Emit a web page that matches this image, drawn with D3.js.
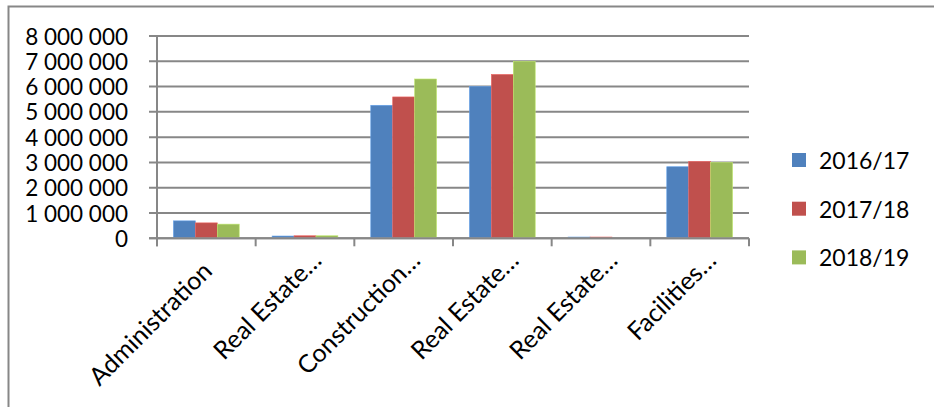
<!DOCTYPE html>
<html>
<head>
<meta charset="utf-8">
<script src="https://cdn.jsdelivr.net/npm/d3@7"></script>
<style>
  html, body { margin: 0; padding: 0; background: #fff; }
  svg { display: block; }
  text { font-family: Lato, "Open Sans", "Liberation Sans", sans-serif; fill: #000; }
</style>
</head>
<body>
<svg id="chart" width="934" height="407"></svg>
<script>
// ---- data ----
const categories = ["Administration", "Real Estate…", "Construction…", "Real Estate…", "Real Estate…", "Facilities…"];
const seriesNames = ["2016/17", "2017/18", "2018/19"];
const values2016 = [690000, 90000, 5260000, 6000000, 50000, 2830000];
const values2017 = [610000, 100000, 5590000, 6480000, 50000, 3040000];
const values2018 = [560000, 100000, 6300000, 7000000, 0, 3000000];
const yTickValues = [0, 1000000, 2000000, 3000000, 4000000, 5000000, 6000000, 7000000, 8000000];
const seriesColors = ["#4F81BD", "#C0504D", "#9BBB59"];

const seriesValues = [values2016, values2017, values2018];

// ---- layout ----
const svg = d3.select("#chart");
const plot = { left: 157, right: 749, top: 36, bottom: 238.3 };
const gridColor = "#878787";

const locale = d3.formatLocale({ decimal: ",", thousands: " ", grouping: [3], currency: ["", ""] });
const fmt = locale.format(",d");

const x = d3.scaleBand().domain(d3.range(categories.length)).range([plot.left, plot.right]).paddingInner(0).paddingOuter(0);
const y = d3.scaleLinear().domain([0, 8000000]).range([plot.bottom, plot.top]);

// outer frame (top and left edges visible)
svg.append("path")
  .attr("d", `M8.5,${407 + 2} L8.5,6.5 L${934 + 2},6.5`)
  .attr("fill", "none").attr("stroke", gridColor).attr("stroke-width", 2);

// gridlines (including tick stubs to the left of the axis)
svg.append("g").selectAll("line").data(yTickValues).join("line")
  .attr("x1", plot.left - 8).attr("x2", plot.right)
  .attr("y1", d => y(d)).attr("y2", d => y(d))
  .attr("stroke", gridColor).attr("stroke-width", 2);

// y axis line
svg.append("line")
  .attr("x1", plot.left).attr("x2", plot.left)
  .attr("y1", plot.top).attr("y2", plot.bottom + 8)
  .attr("stroke", gridColor).attr("stroke-width", 2);

// x ticks at category boundaries
const boundaries = d3.range(categories.length + 1).map(i => i < categories.length ? x(i) : plot.right);
svg.append("g").selectAll("line").data(boundaries).join("line")
  .attr("x1", d => d).attr("x2", d => d)
  .attr("y1", plot.bottom).attr("y2", plot.bottom + 8)
  .attr("stroke", gridColor).attr("stroke-width", 2);

// y labels
svg.append("g").selectAll("text").data(yTickValues).join("text")
  .attr("x", 128).attr("y", d => y(d))
  .attr("text-anchor", "end").attr("dominant-baseline", "central")
  .style("font-size", "22.5px")
  .text(d => fmt(d));

// bars
const groupPad = x.bandwidth() * (1.5 / 4.5) / 2;
const barW = x.bandwidth() / 4.5;
const bars = svg.append("g");
seriesValues.forEach((vals, si) => {
  bars.append("g").selectAll("rect").data(vals).join("rect")
    .attr("x", (d, i) => x(i) + groupPad + si * barW)
    .attr("width", barW)
    .attr("y", d => y(d))
    .attr("height", d => Math.max(0, plot.bottom - 1 - y(d)))
    .attr("fill", seriesColors[si])
    .attr("stroke", d3.color(seriesColors[si]).brighter(0.6))
    .attr("stroke-width", 0.6);
});

// redraw the baseline on top of bars
svg.append("line")
  .attr("x1", plot.left - 8).attr("x2", plot.right)
  .attr("y1", y(0)).attr("y2", y(0))
  .attr("stroke", gridColor).attr("stroke-width", 2);

// x labels (rotated)
svg.append("g").selectAll("text").data(categories).join("text")
  .attr("transform", (d, i) => {
    const cx = x(i) + x.bandwidth() / 2;
    const shift = d.endsWith("…") ? 0 : -15;
    const ax = cx + 18 + shift * Math.SQRT1_2;
    const ay = 262 - shift * Math.SQRT1_2;
    return `translate(${ax},${ay}) rotate(-45)`;
  })
  .attr("text-anchor", "end")
  .style("font-size", "25px")
  .text(d => d);

// legend
const legend = svg.append("g");
const legendRows = seriesNames.map((n, i) => ({ name: n, color: seriesColors[i], cy: 160 + i * 48.7 }));
legend.selectAll("rect").data(legendRows).join("rect")
  .attr("x", 792).attr("y", d => d.cy - 7).attr("width", 14).attr("height", 14)
  .attr("fill", d => d.color);
legend.selectAll("text").data(legendRows).join("text")
  .attr("x", 819).attr("y", d => d.cy)
  .attr("dominant-baseline", "central")
  .style("font-size", "23px")
  .text(d => d.name);
</script>
</body>
</html>
